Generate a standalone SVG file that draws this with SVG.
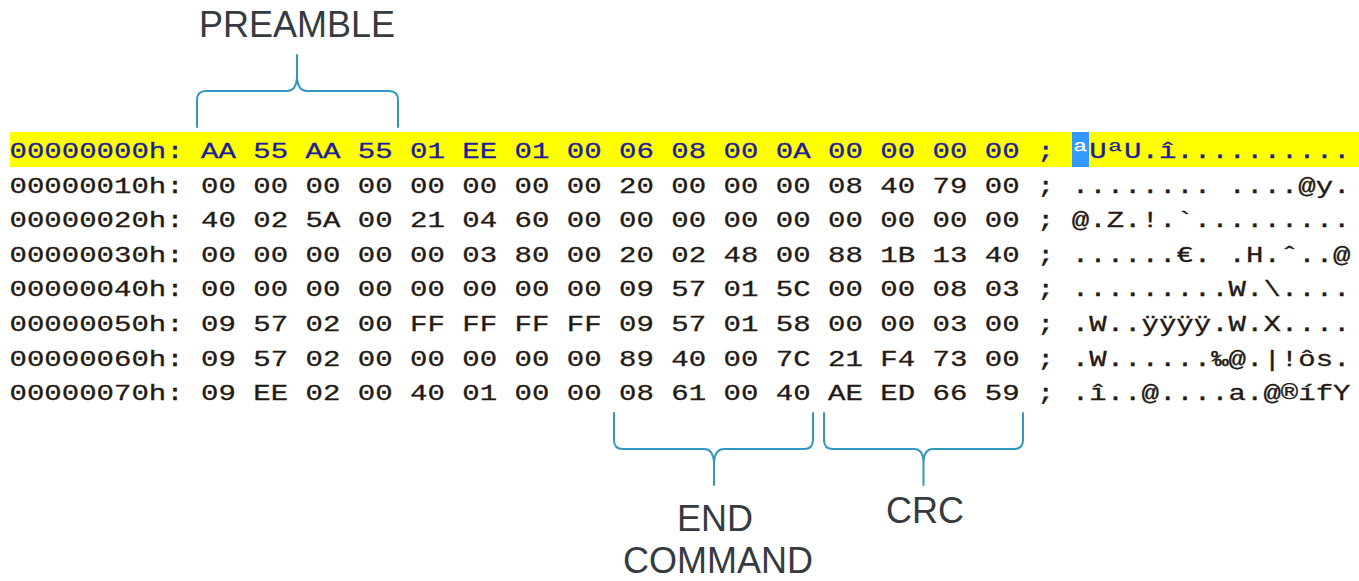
<svg xmlns="http://www.w3.org/2000/svg" width="1359" height="581" viewBox="0 0 1359 581">
  <style>
    .hex { font-family: "Liberation Mono", "Courier New", monospace; font-size: 22px; fill: #241a14; stroke: #241a14; stroke-width: 0.3; white-space: pre; }
    .hex.sel { fill: #1e1e9c; stroke: #1e1e9c; }
    .label { font-family: "Liberation Sans", Arial, sans-serif; font-size: 36px; fill: #353b40; text-anchor: middle; }
    .brace { fill: none; stroke: #3497bd; stroke-width: 2; stroke-linecap: round; stroke-linejoin: round; }
  </style>

  <rect width="1359" height="581" fill="#ffffff"/>

  <!-- hex dump -->
  <g id="hexdump">
    <rect x="10" y="132" width="1349" height="35" fill="#ffff00"/>
    <rect x="1072" y="132" width="17" height="35" fill="#3399ff"/>
    <text class="hex sel" x="9.5" y="158" textLength="1341" lengthAdjust="spacingAndGlyphs">00000000h: AA 55 AA 55 01 EE 01 00 06 08 00 0A 00 00 00 00 ; <tspan fill="#ffffff" stroke="#ffffff">ª</tspan>UªU.î..........</text>
    <text class="hex" x="9.5" y="192.6" textLength="1341" lengthAdjust="spacingAndGlyphs">00000010h: 00 00 00 00 00 00 00 00 20 00 00 00 08 40 79 00 ; ........ ....@y.</text>
    <text class="hex" x="9.5" y="227.2" textLength="1341" lengthAdjust="spacingAndGlyphs">00000020h: 40 02 5A 00 21 04 60 00 00 00 00 00 00 00 00 00 ; @.Z.!.`.........</text>
    <text class="hex" x="9.5" y="261.8" textLength="1341" lengthAdjust="spacingAndGlyphs">00000030h: 00 00 00 00 00 03 80 00 20 02 48 00 88 1B 13 40 ; ......€. .H.ˆ..@</text>
    <text class="hex" x="9.5" y="296.4" textLength="1341" lengthAdjust="spacingAndGlyphs">00000040h: 00 00 00 00 00 00 00 00 09 57 01 5C 00 00 08 03 ; .........W.\....</text>
    <text class="hex" x="9.5" y="331" textLength="1341" lengthAdjust="spacingAndGlyphs">00000050h: 09 57 02 00 FF FF FF FF 09 57 01 58 00 00 03 00 ; .W..ÿÿÿÿ.W.X....</text>
    <text class="hex" x="9.5" y="365.6" textLength="1341" lengthAdjust="spacingAndGlyphs">00000060h: 09 57 02 00 00 00 00 00 89 40 00 7C 21 F4 73 00 ; .W......‰@.|!ôs.</text>
    <text class="hex" x="9.5" y="400.2" textLength="1341" lengthAdjust="spacingAndGlyphs">00000070h: 09 EE 02 00 40 01 00 00 08 61 00 40 AE ED 66 59 ; .î..@....a.@®ífY</text>
  </g>

  <!-- field annotations -->
  <g id="preamble">
    <text class="label" x="297" y="37">PREAMBLE</text>
  </g>
  <g id="end-command">
    <text class="label" x="715" y="531">END</text>
    <text class="label" x="718" y="573">COMMAND</text>
  </g>
  <g id="crc">
    <text class="label" x="925" y="523">CRC</text>
  </g>

  <g id="connectors">
    <path class="brace" d="M197,127 V100 Q197,91 206,91 H287 Q296,91 297,78 V55 M297,78 Q298,91 307,91 H389 Q398,91 398,100 V127"/>
    <path class="brace" d="M614,413 V440 Q614,449 623,449 H704 Q713,449 714,462 V485 M714,462 Q715,449 724,449 H804 Q813,449 813,440 V413"/>
    <path class="brace" d="M824,413 V440 Q824,449 833,449 H914 Q923,449 923.5,462 V485 M923.5,462 Q924,449 933,449 H1014 Q1023,449 1023,440 V413"/>
  </g>
</svg>
